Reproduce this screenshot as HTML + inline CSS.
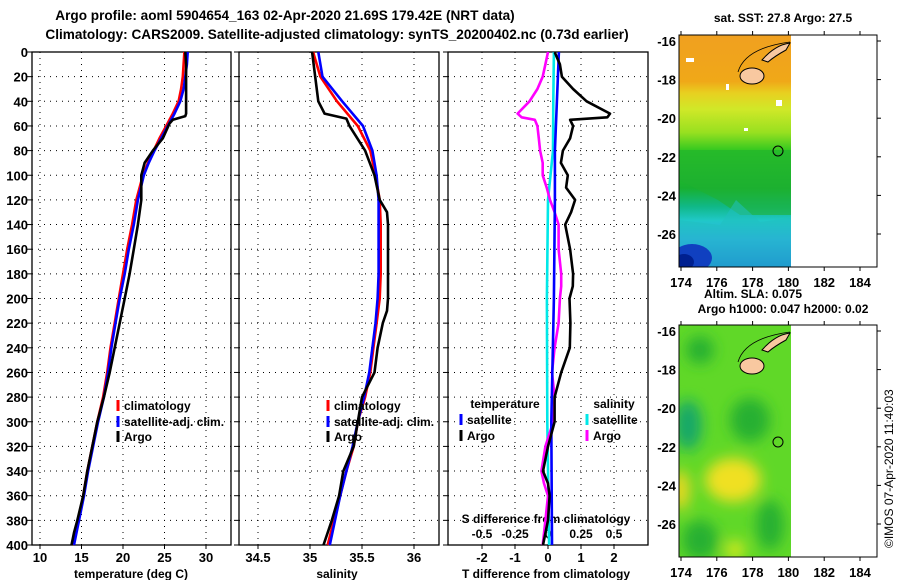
<!DOCTYPE html>
<html><head><meta charset="utf-8">
<style>
html,body{margin:0;padding:0;background:#fff;}
svg{display:block;font-family:"Liberation Sans",Arial,sans-serif;font-weight:bold;}
</style></head>
<body>
<svg id="chart" width="900" height="580" viewBox="0 0 900 580" xmlns="http://www.w3.org/2000/svg">
<defs>
<linearGradient id="sstGrad" x1="0" y1="0" x2="0" y2="1">
<stop offset="0" stop-color="#f0a020"/><stop offset="0.2" stop-color="#f0a818"/>
<stop offset="0.25" stop-color="#e8d020"/><stop offset="0.32" stop-color="#d0e828"/>
<stop offset="0.42" stop-color="#98e020"/><stop offset="0.5" stop-color="#30c820"/>
<stop offset="0.66" stop-color="#18b030"/><stop offset="0.74" stop-color="#10b888"/>
<stop offset="0.8" stop-color="#20c8c8"/><stop offset="0.88" stop-color="#30a8e8"/>
<stop offset="1" stop-color="#2070e0"/></linearGradient>
<filter id="blur"><feGaussianBlur stdDeviation="7"/></filter>
<clipPath id="c1"><rect x="679" y="35" width="112" height="232"/></clipPath>
<clipPath id="c2"><rect x="679" y="325" width="112" height="232"/></clipPath>
</defs>
<text x="285" y="20" text-anchor="middle" font-size="13.6">Argo profile: aoml 5904654_163 02-Apr-2020 21.69S 179.42E (NRT data)</text>
<text x="337" y="39" text-anchor="middle" font-size="13.6">Climatology: CARS2009. Satellite-adjusted climatology: synTS_20200402.nc (0.73d earlier)</text>
<g id="panels"></g>

<!-- Map 1 -->
<g>
<g clip-path="url(#c1)">
<rect x="679" y="35" width="112" height="232" fill="url(#sstGrad)"/>
<path d="M679 150 L791 150 L791 215 L740 215 L718 200 L679 180 Z" fill="#20b030" opacity="0.6"/>
<path d="M679 220 L720 225 L736 200 L760 222 L791 218 L791 267 L679 267 Z" fill="#20c0c0" opacity="0.55"/>
<ellipse cx="692" cy="258" rx="20" ry="14" fill="#1040c0"/>
<ellipse cx="684" cy="262" rx="10" ry="8" fill="#002090"/>
<rect x="686" y="58" width="8" height="4" fill="#fff"/><rect x="726" y="84" width="3" height="6" fill="#fff"/>
<rect x="776" y="100" width="6" height="6" fill="#fff"/><rect x="744" y="128" width="4" height="3" fill="#fff"/>
</g>
<ellipse cx="752" cy="76" rx="12" ry="8" fill="#f8c8a0" stroke="#000"/>
<path d="M762 60 Q775 45 790 43 L786 50 Q775 56 768 62 Z" fill="#f8c8a0" stroke="#000"/>
<path d="M738 72 Q745 48 790 42" fill="none" stroke="#000" stroke-width="0.8"/>
<circle cx="778" cy="151" r="5" fill="none" stroke="#000"/>
<rect x="679" y="35" width="198" height="232" fill="none" stroke="#000"/>
</g>
<text x="783" y="22" text-anchor="middle" font-size="12">sat. SST: 27.8 Argo: 27.5</text>
<text x="753" y="298" text-anchor="middle" font-size="12">Altim. SLA: 0.075</text>
<text x="783" y="313" text-anchor="middle" font-size="12">Argo h1000: 0.047 h2000: 0.02</text>

<!-- Map 2 -->
<g>
<g clip-path="url(#c2)">
<rect x="679" y="325" width="112" height="232" fill="#60d828"/>
<g filter="url(#blur)">
<ellipse cx="700" cy="350" rx="14" ry="14" fill="#28b030"/>
<ellipse cx="688" cy="425" rx="14" ry="25" fill="#18a868"/>
<ellipse cx="750" cy="420" rx="20" ry="22" fill="#28b030"/>
<ellipse cx="733" cy="480" rx="28" ry="22" fill="#f0e020"/>
<ellipse cx="680" cy="490" rx="10" ry="20" fill="#e8d820"/>
<ellipse cx="700" cy="540" rx="18" ry="20" fill="#28b030"/>
<ellipse cx="770" cy="525" rx="14" ry="25" fill="#28b030"/>
<ellipse cx="735" cy="550" rx="10" ry="10" fill="#d0e820"/>
</g>
</g>
<ellipse cx="752" cy="366" rx="12" ry="8" fill="#f8c8a0" stroke="#000"/>
<path d="M762 350 Q775 335 790 333 L786 340 Q775 346 768 352 Z" fill="#f8c8a0" stroke="#000"/>
<path d="M738 362 Q745 338 790 332" fill="none" stroke="#000" stroke-width="0.8"/>
<circle cx="778" cy="442" r="5" fill="none" stroke="#000"/>
<rect x="679" y="325" width="198" height="232" fill="none" stroke="#000"/>
</g>
<text transform="translate(893,548) rotate(-90)" font-size="12" font-weight="normal">©IMOS 07-Apr-2020 11:40:03</text>
<g id="mapaxes"></g>

<script>
// ---- data ----
var tDepth = [0,10,20,30,40,50,60,70,80,90,100,120,140,160,180,200,220,240,260,280,300,320,340,360,380,400];
var tClim  = [27.4,27.3,27.2,27.0,26.7,26.0,25.2,24.4,23.7,23.0,22.4,21.6,21.1,20.5,20.0,19.5,19.0,18.5,18.1,17.6,16.9,16.3,15.7,15.2,14.6,13.9];
var tSat   = [27.8,27.7,27.5,27.3,26.9,26.2,25.4,24.6,23.8,23.1,22.5,21.8,21.3,20.7,20.2,19.6,19.1,18.6,18.2,17.7,17.0,16.4,15.8,15.3,14.7,14.1];
var argoDepth = [0,10,20,30,40,50,52,55,58,70,80,90,100,120,140,160,180,200,220,240,260,280,300,320,340,360,380,390,400];
var tArgo  = [27.5,27.6,27.6,27.6,27.6,27.6,27.5,26.0,25.6,24.8,23.6,22.6,22.2,22.2,21.8,21.3,20.8,20.2,19.6,19.0,18.4,17.7,16.9,16.3,15.7,15.2,14.5,14.1,13.8];
var sDepth = [0,20,40,60,80,100,120,140,160,180,200,220,240,260,280,300,320,340,360,380,400];
var sClim  = [35.03,35.10,35.26,35.46,35.58,35.63,35.67,35.68,35.68,35.68,35.67,35.64,35.61,35.58,35.53,35.46,35.42,35.35,35.29,35.23,35.17];
var sSat   = [35.08,35.12,35.31,35.51,35.60,35.64,35.66,35.66,35.66,35.66,35.65,35.63,35.60,35.57,35.52,35.46,35.41,35.35,35.29,35.24,35.19];
var sArgoDepth = [0,20,40,50,54,60,80,100,120,130,140,160,180,200,210,220,240,260,280,300,320,340,360,380,400];
var sArgo  = [35.02,35.05,35.08,35.14,35.35,35.38,35.53,35.62,35.67,35.74,35.75,35.75,35.75,35.75,35.74,35.70,35.65,35.62,35.50,35.46,35.42,35.32,35.28,35.21,35.13];
var dDepth = [0,10,20,30,40,50,53,55,60,70,80,90,100,110,120,130,140,160,180,190,200,220,240,260,280,300,320,340,350,360,380,400];
var dTArgo = [0.2,0.36,0.42,0.76,1.17,1.88,1.8,0.67,0.76,0.67,0.45,0.39,0.6,0.55,0.82,0.7,0.52,0.67,0.76,0.75,0.65,0.68,0.66,0.4,0.2,0.2,0.0,-0.15,0.0,0.05,0.0,-0.15];
var dSArgo = [0.0,-0.02,-0.04,-0.08,-0.14,-0.23,-0.2,-0.1,-0.08,-0.07,-0.06,-0.04,-0.04,-0.01,0.015,0.05,0.08,0.08,0.1,0.1,0.09,0.08,0.05,0.03,0.05,0.04,-0.02,-0.05,-0.03,0.0,-0.02,-0.04];
var dSatDepth = [0,40,80,120,200,300,400];
var dTSat = [0.33,0.27,0.21,0.21,0.18,0.1,0.12];
var dSSat = [0.045,0.04,0.038,0.0,-0.008,-0.005,0.008];
var depthTicks = [0,20,40,60,80,100,120,140,160,180,200,220,240,260,280,300,320,340,360,380,400];
var tTicks = [10,15,20,25,30];
var sTicks = [34.5,35,35.5,36];
var sTickLabels = ["34.5","35","35.5","36"];
var dTTicks = [-2,-1,0,1,2];
var dSTicks = [-0.5,-0.25,0,0.25,0.5];
var dSTickLabels = ["-0.5","-0.25","0","0.25","0.5"];
var lonTicks = [174,176,178,180,182,184];
var latTicks = [-16,-18,-20,-22,-24,-26];

var NS='http://www.w3.org/2000/svg';
var root=document.getElementById('panels');
function mk(tag,attrs,parent){var e=document.createElementNS(NS,tag);for(var k in attrs)e.setAttribute(k,attrs[k]);(parent||root).appendChild(e);return e;}
var TOP=52,BOT=545;
function yS(d){return TOP+d*(BOT-TOP)/400;}
function lin(d0,d1,r0,r1){return function(v){return r0+(v-d0)*(r1-r0)/(d1-d0);};}
var xT=lin(10,30,40,206), xS=lin(35,36,310,414), xDT=lin(0,1,548,581), xDS=lin(0,0.25,548,581);

function frame(x0,x1,vticks,sx,name){
  var g=mk('g',{});
  
  
  depthTicks.forEach(function(d){
    var y=yS(d);
    if(d>0&&d<400){var l=mk('line',{x1:x0,x2:x1,y1:y,y2:y,stroke:'#000','stroke-width':1,'stroke-dasharray':'1 5'},g);
    }
    mk('line',{x1:x0-5,x2:x0,y1:y,y2:y,stroke:'#000'},g);
  });
  vticks.forEach(function(v){
    var x=sx(v);
    var l=mk('line',{x1:x,x2:x,y1:TOP,y2:BOT,stroke:'#000','stroke-width':1,'stroke-dasharray':'1 5'},g);
    
    mk('line',{x1:x,x2:x,y1:BOT,y2:BOT+4,stroke:'#000'},g);
  });
  mk('rect',{x:x0,y:TOP,width:x1-x0,height:BOT-TOP,fill:'none',stroke:'#000','stroke-width':1.3},g);
  return g;
}
function series(xs,ds,sx,color,name){
  var p=xs.map(function(v,i){return (i?'L':'M')+sx(v).toFixed(1)+' '+yS(ds[i]).toFixed(1);}).join(' ');
  var e=mk('path',{d:p,fill:'none',stroke:color,'stroke-width':2.6,'stroke-linejoin':'round'});
  
  
}
function txt(x,y,s,anchor,size,name){
  var t=mk('text',{x:x,y:y,'text-anchor':anchor||'middle','font-size':size||12});
  t.textContent=s;
  
  
  return t;
}
function legend(x,y,color,label,name){
  var r=mk('rect',{x:x-1.5,y:y-10,width:3,height:11,fill:color});
  
  
  txt(x+6,y,label,'start',12,name);
}

// Panel 1 temperature
frame(32,231,tTicks,xT,'temperature-panel');
depthTicks.forEach(function(d){txt(28,yS(d)+5,String(d),'end',13,'depth-tick-label');});
tTicks.forEach(function(v){txt(xT(v),562,String(v),'middle',13,'temperature-tick-label');});
txt(131,578,'temperature (deg C)','middle',12,'temperature-axis-title');
series(tClim,tDepth,xT,'#ff0000','temperature-climatology-line');
series(tSat,tDepth,xT,'#0000ff','temperature-satellite-line');
series(tArgo,argoDepth,xT,'#000000','temperature-argo-line');
legend(118,410,'#ff0000','climatology','legend-climatology');
legend(118,426,'#0000ff','satellite-adj. clim.','legend-satellite-adj');
legend(118,441,'#000000','Argo','legend-argo');

// Panel 2 salinity
frame(239,439,sTicks,xS,'salinity-panel');
sTicks.forEach(function(v,i){txt(xS(v),562,sTickLabels[i],'middle',13,'salinity-tick-label');});
txt(337,578,'salinity','middle',12,'salinity-axis-title');
series(sClim,sDepth,xS,'#ff0000','salinity-climatology-line');
series(sSat,sDepth,xS,'#0000ff','salinity-satellite-line');
series(sArgo,sArgoDepth,xS,'#000000','salinity-argo-line');
legend(328,410,'#ff0000','climatology','legend-climatology-s');
legend(328,426,'#0000ff','satellite-adj. clim.','legend-satellite-adj-s');
legend(328,441,'#000000','Argo','legend-argo-s');

// Panel 3 differences
frame(448,648,dTTicks,xDT,'difference-panel');
dTTicks.forEach(function(v){txt(xDT(v),562,String(v),'middle',13,'t-difference-tick-label');});
dSTicks.forEach(function(v,i){txt(xDS(v),538,dSTickLabels[i],'middle',12,'s-difference-tick-label');});
txt(546,523,'S difference from climatology','middle',12,'s-difference-axis-title');
txt(546,578,'T difference from climatology','middle',12,'t-difference-axis-title');
series(dSSat,dSatDepth,xDS,'#00e8e8','salinity-satellite-diff-line');
series(dSArgo,dDepth,xDS,'#ff00ff','salinity-argo-diff-line');
series(dTSat,dSatDepth,xDT,'#0000ff','temperature-satellite-diff-line');
series(dTArgo,dDepth,xDT,'#000000','temperature-argo-diff-line');
txt(505,408,'temperature','middle',12,'legend-temperature-heading');
legend(461,424,'#0000ff','satellite','legend-t-satellite');
legend(461,440,'#000000','Argo','legend-t-argo');
txt(614,408,'salinity','middle',12,'legend-salinity-heading');
legend(587,424,'#00e8e8','satellite','legend-s-satellite');
legend(587,440,'#ff00ff','Argo','legend-s-argo');

// Map axes
var mroot=document.getElementById('mapaxes');
var xLon=lin(174,184,681,860), yLat=lin(-16,-26,0,193);
[35,325].forEach(function(top,k){
  lonTicks.forEach(function(v){
    var x=xLon(v);
    mk('line',{x1:x,x2:x,y1:top,y2:top-4,stroke:'#000'},mroot);
    mk('line',{x1:x,x2:x,y1:top+232,y2:top+236,stroke:'#000'},mroot);
    var t=mk('text',{x:x,y:top+252,'text-anchor':'middle','font-size':13},mroot);
    t.textContent=String(v);
    
    
  });
  latTicks.forEach(function(v){
    var y=top+6+yLat(v);
    mk('line',{x1:877,x2:881,y1:y,y2:y,stroke:'#000'},mroot);
    var t=mk('text',{x:676,y:y+5,'text-anchor':'end','font-size':13},mroot);
    t.textContent=String(v);
    
    
  });
});
</script>
</svg>
</body></html>
